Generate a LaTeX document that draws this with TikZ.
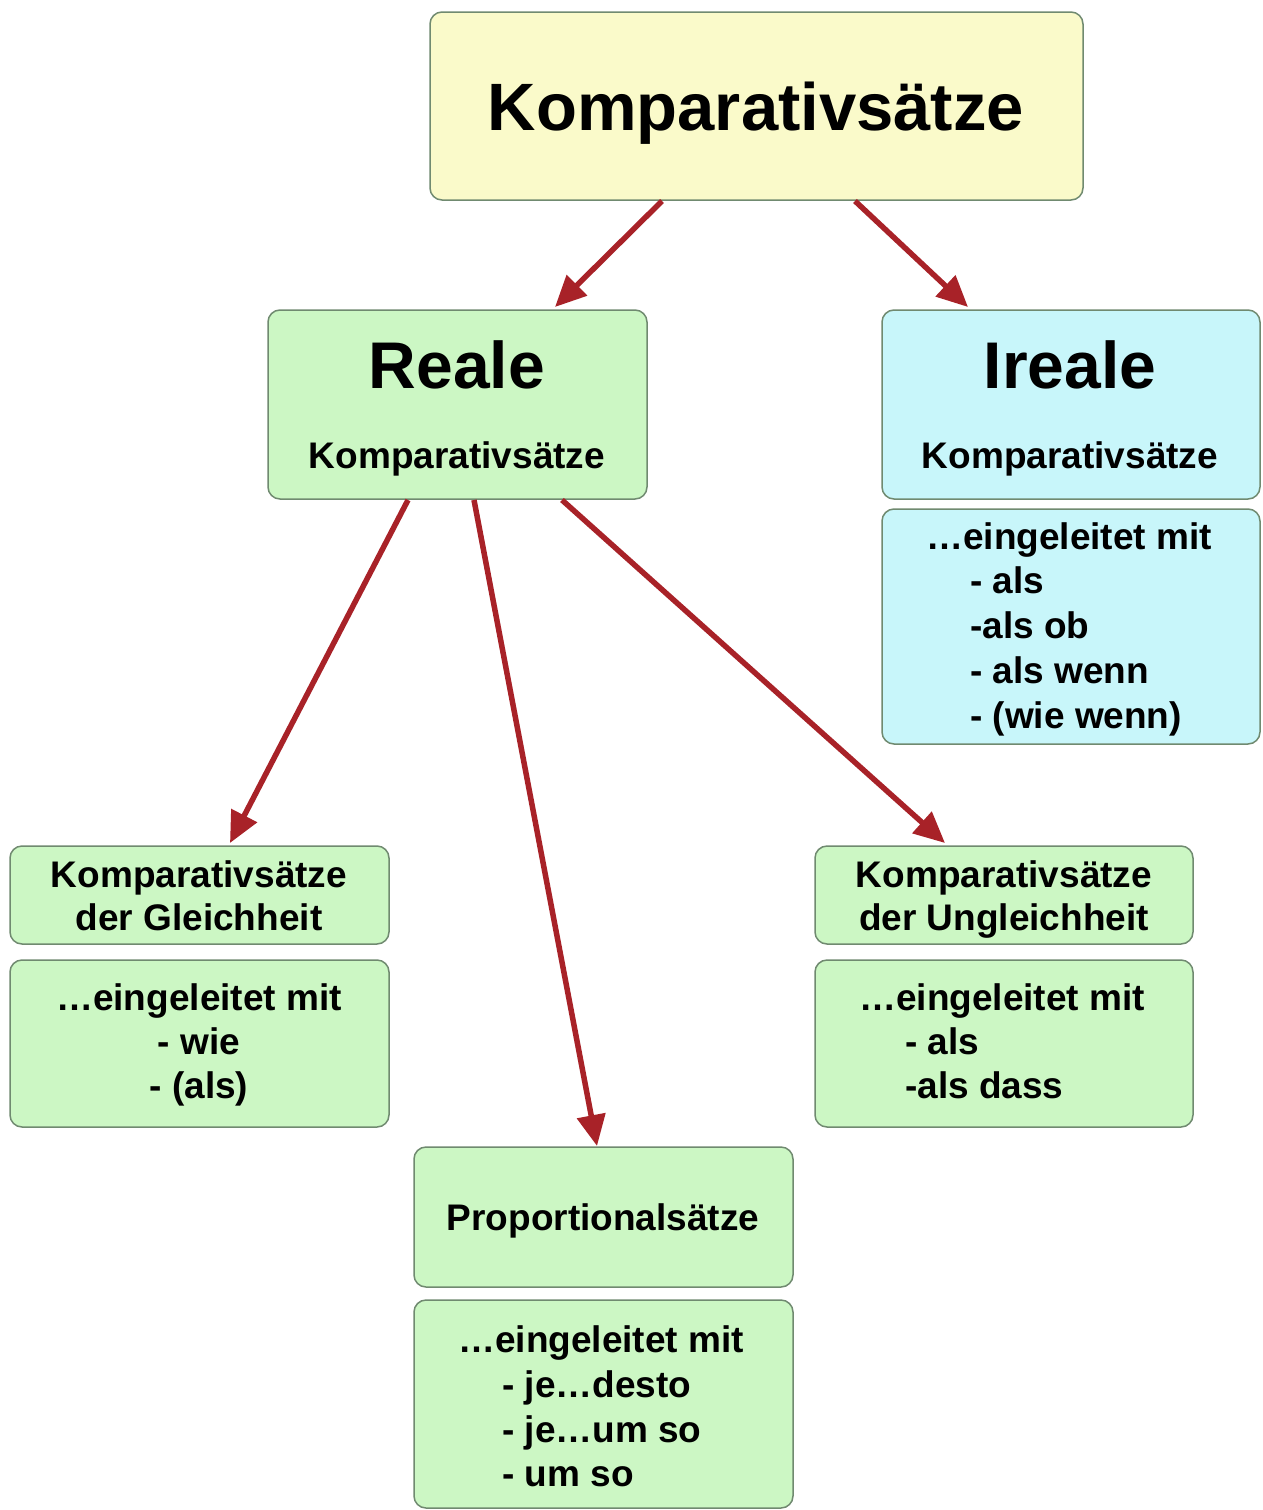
\documentclass[tikz,border=0pt]{standalone}
\usepackage{fontspec}
\setmainfont{Liberation Sans}
\usetikzlibrary{arrows.meta}
\definecolor{yel}{RGB}{250,250,202}
\definecolor{grn}{RGB}{204,247,196}
\definecolor{cyn}{RGB}{200,246,250}
\definecolor{bordercol}{RGB}{112,138,112}
\definecolor{arrcol}{RGB}{168,34,40}
\tikzset{
  box/.style={draw=bordercol, line width=1.5pt, rounded corners=12pt, anchor=north west, inner sep=0pt, outer sep=0pt},
  txt/.style={inner sep=0pt, anchor=base, font=\bfseries\fontsize{37}{45}\selectfont},
  txtl/.style={txt, anchor=base west},
  bigtxt/.style={inner sep=0pt, anchor=base, font=\bfseries\fontsize{66}{70}\selectfont},
  arr/.style={draw=arrcol, line width=5.5pt, -{Triangle[length=31pt,width=28pt]}},
}
\begin{document}
\begin{tikzpicture}[x=1pt,y=-1pt]
\useasboundingbox[fill=white] (0,0) rectangle (1262,1510);
% boxes
\node[box, fill=yel, minimum width=653pt, minimum height=188pt] (top) at (430,12) {};
\node[box, fill=grn, minimum width=379pt, minimum height=189pt] (reale) at (268,310) {};
\node[box, fill=cyn, minimum width=378pt, minimum height=189pt] (ireale) at (882,310) {};
\node[box, fill=cyn, minimum width=378pt, minimum height=235pt] (irealelist) at (882,509) {};
\node[box, fill=grn, minimum width=379pt, minimum height=98pt] (gleich) at (10,846) {};
\node[box, fill=grn, minimum width=379pt, minimum height=167pt] (gleichlist) at (10,960) {};
\node[box, fill=grn, minimum width=378pt, minimum height=98pt] (ungleich) at (815,846) {};
\node[box, fill=grn, minimum width=378pt, minimum height=167pt] (ungleichlist) at (815,960) {};
\node[box, fill=grn, minimum width=379pt, minimum height=140pt] (prop) at (414,1147) {};
\node[box, fill=grn, minimum width=379pt, minimum height=208pt] (proplist) at (414,1300) {};
% texts
\node[bigtxt, font=\bfseries\fontsize{67}{70}\selectfont] (toptxt) at (756,130) {Komparativsätze};
\node[bigtxt] (realetxt) at (457,388) {Reale};
\node[txt] (realesub) at (457,468) {Komparativsätze};
\node[bigtxt] (irealetxt) at (1070,388) {Ireale};
\node[txt] (irealesub) at (1070,468) {Komparativsätze};
\node[txtl] (il1) at (926,549) {…eingeleitet mit};
\node[txtl] (il2) at (970,593) {- als};
\node[txtl] (il3) at (970,638) {-als ob};
\node[txtl] (il4) at (970,683) {- als wenn};
\node[txtl] (il5) at (970,728) {- (wie wenn)};
\node[txt] (g1) at (199,887) {Komparativsätze};
\node[txt] (g2) at (199,930) {der Gleichheit};
\node[txt] (gl1) at (199,1010) {…eingeleitet mit};
\node[txt] (gl2) at (199,1054) {- wie};
\node[txt] (gl3) at (199,1098) {- (als)};
\node[txt] (u1) at (1004,887) {Komparativsätze};
\node[txt] (u2) at (1004,930) {der Ungleichheit};
\node[txtl] (ul1) at (859,1010) {…eingeleitet mit};
\node[txtl] (ul2) at (905,1054) {- als};
\node[txtl] (ul3) at (905,1098) {-als dass};
\node[txt] (p1) at (603,1230) {Proportionalsätze};
\node[txtl] (pl1) at (458,1352) {…eingeleitet mit};
\node[txtl] (pl2) at (502,1397) {- je…desto};
\node[txtl] (pl3) at (502,1442) {- je…um so};
\node[txtl] (pl4) at (502,1486) {- um so};
% arrows
\draw[arr] ([xshift=232pt,yshift=-1pt]top.south west) -- ([xshift=287pt,yshift=3pt]reale.north west);
\draw[arr] ([xshift=425pt,yshift=-1pt]top.south west) -- ([xshift=86pt,yshift=3pt]ireale.north west);
\draw[arr] ([xshift=140pt,yshift=-1pt]reale.south west) -- ([xshift=220pt,yshift=3pt]gleich.north west);
\draw[arr] ([xshift=206pt,yshift=-1pt]reale.south west) -- ([xshift=183pt,yshift=1pt]prop.north west);
\draw[arr] ([xshift=294pt,yshift=-1pt]reale.south west) -- ([xshift=130pt,yshift=3pt]ungleich.north west);
\end{tikzpicture}
\end{document}
